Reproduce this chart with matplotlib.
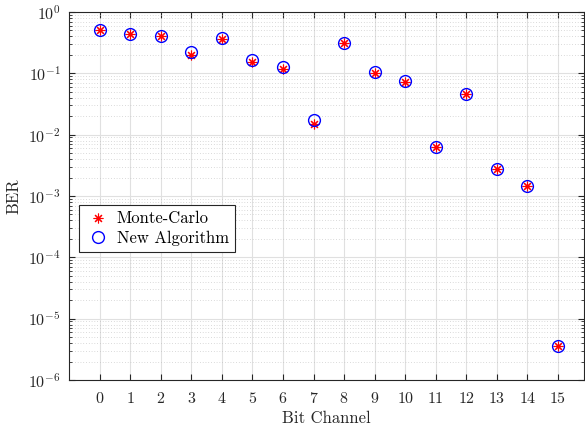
import numpy as np
import matplotlib
matplotlib.use("Agg")
from matplotlib import pyplot as plt
from matplotlib.ticker import LogLocator, NullFormatter, FixedLocator

plt.rcParams['font.family'] = 'serif'
plt.rcParams['font.serif'] = ['cmr10', 'DejaVu Serif']
plt.rcParams['mathtext.fontset'] = 'cm'
plt.rcParams['axes.formatter.use_mathtext'] = True

bit_channel = list(range(16))
ber_monte_carlo = [0.50, 0.43, 0.41, 0.200, 0.36, 0.155, 0.119, 0.0149, 0.308, 0.102,
                   0.073, 0.0063, 0.0465, 0.00271, 0.00148, 3.55e-6]
ber_new_algo = [0.50, 0.43, 0.41, 0.225, 0.38, 0.167, 0.128, 0.0173, 0.308, 0.106,
                0.076, 0.00635, 0.0465, 0.00271, 0.00148, 3.55e-6]

fig = plt.figure(figsize=(5.85, 4.3), dpi=100)
ax = fig.add_axes([69 / 585, 50 / 430, (584 - 69) / 585, (380 - 12) / 430])

ax.semilogy(bit_channel, ber_monte_carlo, linestyle='none', marker=(8, 2, 0),
            color='red', markersize=7, markeredgewidth=0.8, label='Monte-Carlo')
ax.semilogy(bit_channel, ber_new_algo, linestyle='none', marker='o',
            markerfacecolor='none', markeredgecolor='blue', markersize=8.5,
            markeredgewidth=1.0, label='New Algorithm')

ax.set_xlim(-1, 15.85)
ax.set_ylim(1e-6, 1)
ax.xaxis.set_major_locator(FixedLocator(bit_channel))
ax.yaxis.set_major_locator(LogLocator(base=10, numticks=10))
ax.yaxis.set_minor_locator(LogLocator(base=10, subs=np.arange(2, 10), numticks=10))
ax.yaxis.set_minor_formatter(NullFormatter())

ax.grid(True, which='major', color='0.88', linewidth=0.8, linestyle='-')
ax.grid(True, which='minor', axis='y', color='0.72', linewidth=0.5, linestyle=(0, (1, 3)))
ax.set_axisbelow(True)

ax.tick_params(which='both', direction='in', top=True, right=True, colors='0.15',
               labelsize=11.5)
ax.tick_params(axis='x', which='major', length=4, pad=8)
ax.tick_params(axis='y', which='major', length=4, pad=6)
ax.tick_params(which='minor', length=2)
for s in ax.spines.values():
    s.set_color('0.15')
    s.set_linewidth(0.8)

ax.set_xlabel('Bit Channel', fontsize=12, color='0.15', labelpad=3)
ax.set_ylabel('BER', fontsize=12, color='0.15', labelpad=5)

leg = ax.legend(loc='lower left', bbox_to_anchor=(0.004, 0.326), fancybox=False,
                framealpha=1, edgecolor='0.15', fontsize=12, handletextpad=0.4,
                borderpad=0.35, labelspacing=0.25, handlelength=1.5)
leg.get_frame().set_linewidth(0.8)

fig.savefig('out.png', dpi=100)
